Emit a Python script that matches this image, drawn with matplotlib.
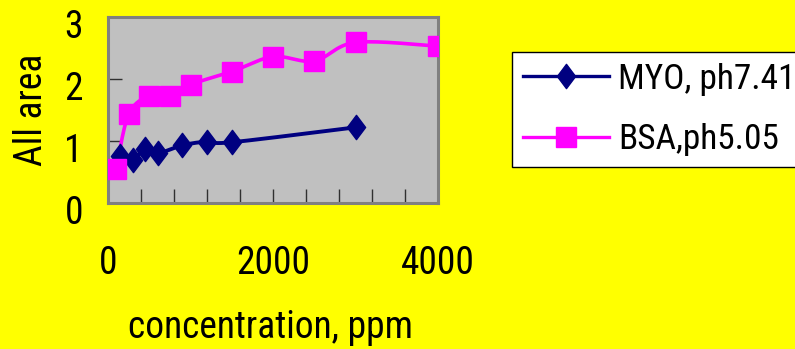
import numpy as np
import matplotlib
matplotlib.use("Agg")
import matplotlib.pyplot as plt
from matplotlib.path import Path
import matplotlib.transforms as mtransforms

plt.rcParams['font.family'] = ['Roboto Condensed', 'DejaVu Sans']

# ---- data ----
myo_x = [150, 300, 450, 600, 900, 1200, 1500, 3000]
myo_y = [0.76, 0.70, 0.87, 0.80, 0.93, 0.99, 0.98, 1.22]
bsa_x = [100, 250, 500, 750, 1000, 1500, 2000, 2500, 3000, 4000]
bsa_y = [0.55, 1.43, 1.73, 1.72, 1.91, 2.12, 2.36, 2.29, 2.59, 2.53]
myo_label = "MYO, ph7.41"
bsa_label = "BSA,ph5.05"
x_ticklabels = {0: "0", 2000: "2000", 4000: "4000"}
y_ticks = [0, 1, 2, 3]


def smooth(x, y, n=30):
    pts = np.column_stack([x, y]).astype(float)
    out = []
    for i in range(len(pts) - 1):
        p0 = pts[i - 1] if i > 0 else pts[i]
        p1 = pts[i]
        p2 = pts[i + 1]
        p3 = pts[i + 2] if i + 2 < len(pts) else pts[i + 1]
        c1 = p1 + (p2 - p0) / 6.0
        c2 = p2 - (p3 - p1) / 6.0
        t = np.linspace(0, 1, n)[:, None]
        b = (1 - t) ** 3 * p1 + 3 * (1 - t) ** 2 * t * c1 + 3 * (1 - t) * t ** 2 * c2 + t ** 3 * p2
        out.append(b)
    s = np.vstack(out)
    return s[:, 0], s[:, 1]


diamond = Path([(0, 1), (0.75, 0), (0, -1), (-0.75, 0), (0, 1)],
               [Path.MOVETO, Path.LINETO, Path.LINETO, Path.LINETO, Path.CLOSEPOLY])

navy = '#000080'
magenta = '#FF00FF'
FS = 27
LFS = 25.5

fig = plt.figure(figsize=(7.95, 3.49), dpi=100, facecolor='#FFFF00')
ax = fig.add_axes([108 / 795, 1 - 203 / 349, 330 / 795, 186 / 349])
ax.set_facecolor('#C0C0C0')

sx, sy = smooth(myo_x, myo_y)
ax.plot(sx, sy, color=navy, lw=2.8, solid_capstyle='round', zorder=2)
ax.plot(myo_x, myo_y, ls='none', marker=diamond, ms=17.5, color=navy, zorder=3)

bx, by = smooth(bsa_x, bsa_y)
ax.plot(bx, by, color=magenta, lw=2.6, solid_capstyle='round', zorder=2)
ax.plot(bsa_x, bsa_y, ls='none', marker='s', ms=14.5, color=magenta, zorder=4)

ax.set_xlim(0, 4000)
ax.set_ylim(0, 3)
xt = np.arange(0, 4001, 400)
ax.set_xticks(xt)
ax.set_xticklabels([x_ticklabels.get(int(v), "") for v in xt])
ax.set_yticks(y_ticks)
ax.set_yticklabels([str(v) for v in y_ticks])
ax.tick_params(axis='both', direction='in', length=10, width=1, color='#303030',
               labelsize=FS)
ax.tick_params(axis='x', pad=30)
ax.tick_params(axis='y', pad=18)
off = mtransforms.ScaledTranslation(0, -0.07, fig.dpi_scale_trans)
for lab in ax.get_yticklabels():
    lab.set_transform(lab.get_transform() + off)

for s in ax.spines.values():
    s.set_color('#808080')
    s.set_linewidth(2.2)

fig.text(31 / 795, 1 - 110 / 349, "All area", rotation=90, fontsize=FS,
         ha='center', va='center')
fig.text(271 / 795, 1 - 328 / 349, "concentration, ppm", fontsize=FS,
         ha='center', va='center')

h1 = plt.Line2D([], [], color=navy, lw=2.4, marker=diamond, ms=17.5)
h2 = plt.Line2D([], [], color=magenta, lw=2.4, marker='s', ms=14)
leg = fig.legend([h1, h2], [myo_label, bsa_label], loc='upper left',
                 bbox_to_anchor=(512 / 795, 1 - 52 / 349), fontsize=LFS,
                 frameon=True, fancybox=False, edgecolor='black', facecolor='white',
                 framealpha=1, handlelength=2.45, handletextpad=0.25,
                 labelspacing=0.78, borderpad=0.3, borderaxespad=0)
leg.get_frame().set_linewidth(1.0)

fig.savefig('out.png', dpi=100, facecolor=fig.get_facecolor())
